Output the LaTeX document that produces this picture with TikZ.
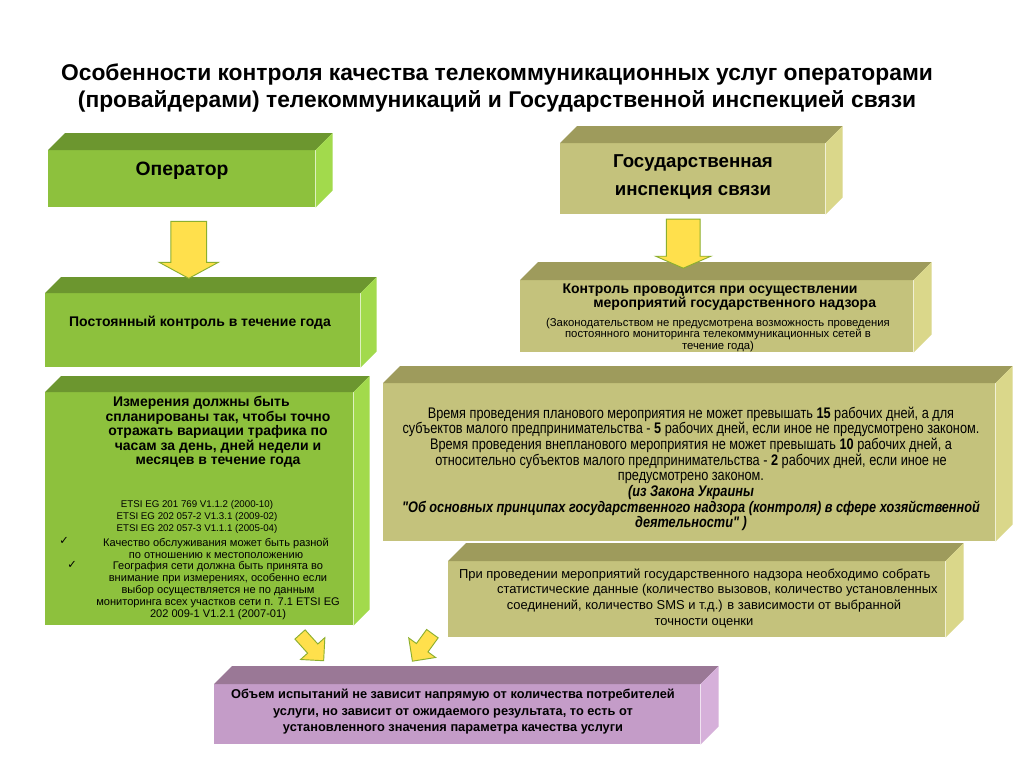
\documentclass[tikz,border=0pt]{standalone}
\usepackage{fontspec}
\setmainfont{Liberation Sans}
\newfontfamily\narrowfont[FakeStretch=0.83]{Liberation Sans}
\newfontfamily\symfont{DejaVu Sans}
\usetikzlibrary{positioning,calc,shapes.arrows}
\definecolor{grnF}{HTML}{8DC13D}
\definecolor{grnT}{HTML}{6C962F}
\definecolor{grnS}{HTML}{A2DA4C}
\definecolor{olvF}{HTML}{C4C27C}
\definecolor{olvT}{HTML}{9E9B5C}
\definecolor{olvS}{HTML}{DAD78A}
\definecolor{purF}{HTML}{C49CC8}
\definecolor{purT}{HTML}{9A7896}
\definecolor{purS}{HTML}{D6B0DA}
\definecolor{arrfill}{HTML}{FFE04C}
\definecolor{arrline}{HTML}{8CAF2E}
\tikzset{
  box/.style={rectangle,inner sep=0pt,anchor=north west},
  txt/.style={align=center,inner sep=0pt,text=black},
  blkarrow/.style={single arrow,draw=arrline,fill=arrfill,line width=0.7pt,inner xsep=0pt},
}
\begin{document}
\begin{tikzpicture}[x=0.75pt,y=-0.75pt]
  \useasboundingbox[fill=white] (0,0) rectangle (1024,768);

  % title
  \node[txt,font=\fontsize{17.1}{20.25}\selectfont\bfseries] (title) at (497,88)
    {Особенности контроля качества телекоммуникационных услуг операторами\\
     (провайдерами) телекоммуникаций и Государственной инспекцией связи};

  % boxes (front faces)
  \node[box,fill=grnF,minimum width=200.25pt,minimum height=42.75pt] (op) at (48,150) {};
  \node[box,fill=olvF,minimum width=198.75pt,minimum height=53.25pt] (gi) at (560,143) {};
  \node[box,fill=grnF,minimum width=236.25pt,minimum height=55.5pt] (pk) at (45,293) {};
  \node[box,fill=olvF,minimum width=294.75pt,minimum height=54pt] (kp) at (520,280) {};
  \node[box,fill=grnF,minimum width=231pt,minimum height=174.75pt] (meas) at (45,392) {};
  \node[box,fill=olvF,minimum width=459pt,minimum height=118.5pt] (time) at (383,383) {};
  \node[box,fill=olvF,minimum width=372.75pt,minimum height=57pt] (stat) at (448,561) {};
  \node[box,fill=purF,minimum width=364.5pt,minimum height=45pt] (vol) at (214,684) {};

  % top and side faces
  \foreach \n/\c/\d in {op/grn/17,gi/olv/17,pk/grn/16,kp/olv/18,meas/grn/16,
                        time/olv/17,stat/olv/18,vol/pur/18}{
    \fill[\c T] (\n.north west) -- ++(\d,-\d) -- ($(\n.north east)+(\d,-\d)$)
      -- (\n.north east) -- cycle;
    \fill[\c S] (\n.north east) -- ++(\d,-\d) -- ($(\n.south east)+(\d,-\d)$)
      -- (\n.south east) -- cycle;
  }

  % texts
  \node[txt,font=\fontsize{14.5}{17}\selectfont\bfseries] (opT) at (182,171) {Оператор};
  \node[txt,font=\fontsize{14}{21}\selectfont\bfseries] (giT) at (693,177)
    {Государственная\\инспекция связи};
  \node[txt,font=\fontsize{10.5}{12}\selectfont\bfseries] (pkT) at (200,323)
    {Постоянный контроль в течение года};
  \node[txt,font=\fontsize{10.5}{10.5}\selectfont\bfseries] (kpT) at (722,297)
    {Контроль проводится при осуществлении\hspace*{18pt}\\
     \hspace*{19pt}мероприятий государственного надзора};
  \node[txt,font=\fontsize{8.5}{8.6}\selectfont] (kpN) at (718,335)
    {(Законодательством не предусмотрена возможность проведения\\
     постоянного мониторинга телекоммуникационных сетей в\\течение года)};
  \node[txt,font=\fontsize{10.5}{10.9}\selectfont\bfseries] (measT) at (218,432)
    {Измерения должны быть\hspace*{25pt}\\спланированы так, чтобы точно\\отражать вариации трафика по\\
     часам за день, дней недели и\\месяцев в течение года};
  \node[txt,font=\fontsize{7.3}{9}\selectfont] (measE) at (197,517)
    {ETSI EG 201 769 V1.1.2 (2000-10)\\ETSI EG 202 057-2 V1.3.1 (2009-02)\\
     ETSI EG 202 057-3 V1.1.1 (2005-04)};
  \node[txt,font=\fontsize{8.3}{9}\selectfont] (measQ) at (216,548)
    {Качество обслуживания может быть разной\\по отношению к местоположению};
  \node[txt,font=\fontsize{8.3}{9}\selectfont] (measG) at (218,591)
    {География сети должна быть принята во\\внимание при измерениях, особенно если\\
     выбор осуществляется не по данным\\мониторинга всех участков сети п. 7.1 ETSI EG\\
     202 009-1 V1.2.1 (2007-01)};
  \node[txt,font=\symfont\fontsize{8.5}{9}\selectfont] (chk1) at (64,541) {✓};
  \node[txt,font=\symfont\fontsize{8.5}{9}\selectfont] (chk2) at (72,565) {✓};
  \node[txt,font=\narrowfont\fontsize{11.5}{11.75}\selectfont] (timeT) at (691,469)
    {Время проведения планового мероприятия не может превышать \textbf{15} рабочих дней, а для\\
     субъектов малого предпринимательства - \textbf{5} рабочих дней, если иное не предусмотрено законом.\\
     Время проведения внепланового мероприятия не может превышать \textbf{10} рабочих дней, а\\
     относительно субъектов малого предпринимательства - \textbf{2} рабочих дней, если иное не\\
     предусмотрено законом.\\
     \textbf{\textit{(из Закона Украины}}\\
     \textbf{\textit{"Об основных принципах государственного надзора (контроля) в сфере хозяйственной}}\\
     \textbf{\textit{деятельности" )}}};
  \node[txt,font=\fontsize{9.7}{11.75}\selectfont] (statT) at (704,598)
    {При проведении мероприятий государственного надзора необходимо собрать\hspace*{14pt}\\
     \hspace*{20pt}статистические данные (количество вызовов, количество установленных\\
     соединений, количество SMS и т.д.) в зависимости от выбранной\\точности оценки};
  \node[txt,font=\fontsize{9.6}{12.4}\selectfont\bfseries] (volT) at (453,712)
    {Объем испытаний не зависит напрямую от количества потребителей\\
     услуги, но зависит от ожидаемого результата, то есть от\\
     установленного значения параметра качества услуги};

  % block arrows
  \node[blkarrow,rotate=-90,inner ysep=10.5pt,minimum width=44.25pt,minimum height=42.75pt,
    single arrow tip angle=123] (a1) at ($(op.south)+(7,37.5)$) {};
  \node[blkarrow,rotate=-90,inner ysep=10.9pt,minimum width=41.25pt,minimum height=36.75pt,
    single arrow tip angle=133] (a2) at ($(gi.south)+(-9.5,25.5)$) {};
  \node[blkarrow,rotate=-48,inner ysep=4.8pt,minimum width=18.5pt,minimum height=26.5pt]
    (a3) at ($(meas.south east)+(-44,19.5)$) {};
  \node[blkarrow,rotate=-126,inner ysep=5pt,minimum width=18.5pt,minimum height=25.5pt]
    (a4) at ($(stat.south west)+(-23.5,7)$) {};
\end{tikzpicture}
\end{document}
